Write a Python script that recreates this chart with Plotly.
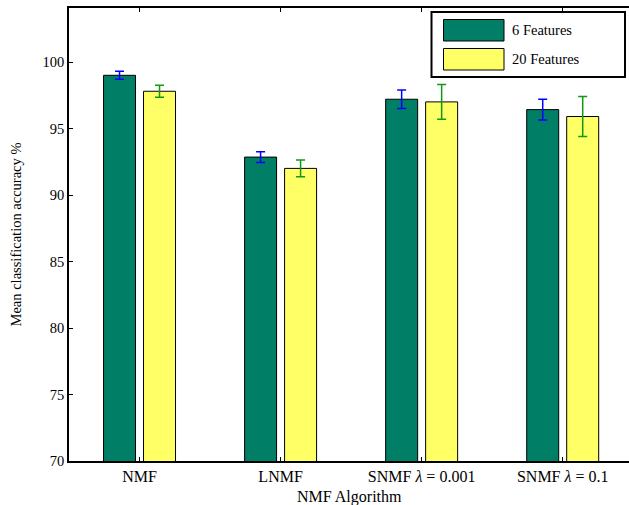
import plotly.graph_objects as go

categories = ["NMF", "LNMF", "SNMF <i>λ</i> = 0.001", "SNMF <i>λ</i> = 0.1"]
series_names = ["6 Features", "20 Features"]
acc_6 = [99.0, 92.85, 97.2, 96.42]
err_6 = [0.3, 0.4, 0.69, 0.78]
acc_20 = [97.8, 92.0, 97.0, 95.9]
err_20 = [0.45, 0.63, 1.3, 1.5]
y_ticks = [70, 75, 80, 85, 90, 95, 100]
x_title = "NMF Algorithm"
y_title = "Mean classification accuracy %"

GREEN = "#007f66"
YELLOW = "#ffff66"
FONT = "Liberation Serif"

W, H = 629, 505
L, T, B = 69, 8, 44
PW, PH = W - L, H - T - B

def px(x):
    return (x - L) / PW

def py(y):
    return (H - B - y) / PH

fig = go.Figure()
fig.add_bar(x=categories, y=acc_6, name=series_names[0],
            marker=dict(color=GREEN, line=dict(color="black", width=1)),
            error_y=dict(type="data", array=err_6, color="#0000ff", thickness=1.5, width=4.5),
            showlegend=False, hoverinfo="skip")
fig.add_bar(x=categories, y=acc_20, name=series_names[1],
            marker=dict(color=YELLOW, line=dict(color="black", width=1)),
            error_y=dict(type="data", array=err_20, color="#119911", thickness=1.5, width=4.5),
            showlegend=False, hoverinfo="skip")

fig.update_layout(
    width=W, height=H,
    margin=dict(l=L, r=0, t=T, b=B, autoexpand=False),
    paper_bgcolor="white", plot_bgcolor="white",
    barmode="group", bargap=0.433, bargroupgap=0.2,
    font=dict(family=FONT, size=14, color="black"),
    xaxis=dict(range=[-0.5, 3.47], showline=True, linecolor="black", linewidth=1.5,
               mirror="ticks", ticks="inside", ticklen=4, tickcolor="black",
               tickfont=dict(size=16),
               showgrid=False, zeroline=False, automargin=False),
    yaxis=dict(range=[70, 104.06], tickvals=y_ticks, showline=True, linecolor="black",
               linewidth=1.5, ticks="inside", ticklen=4, tickcolor="black",
               tickfont=dict(size=14.5),
               showgrid=False, zeroline=False, automargin=False,
               title=dict(text=y_title, font=dict(size=14.5), standoff=18)),
    yaxis2=dict(range=[70, 104.06], tickvals=y_ticks, overlaying="y", side="right",
                showline=False, ticks="inside", ticklen=4, tickcolor="black",
                showticklabels=False, showgrid=False, zeroline=False, automargin=False),
)

# x-axis title placed as annotation to match the reference position
fig.add_annotation(xref="paper", yref="paper", x=0.5, y=py(497), text=x_title,
                   showarrow=False, xanchor="center", yanchor="middle",
                   font=dict(family=FONT, size=16, color="black"))

# legend box drawn manually (large swatches as in reference)
shapes = [
    dict(type="rect", xref="paper", yref="paper", x0=px(431.5), x1=px(625), y0=py(77), y1=py(12),
         line=dict(color="black", width=2), fillcolor="white", layer="above"),
    dict(type="rect", xref="paper", yref="paper", x0=px(443.5), x1=px(504), y0=py(41), y1=py(19.5),
         line=dict(color="black", width=1), fillcolor=GREEN, layer="above"),
    dict(type="rect", xref="paper", yref="paper", x0=px(443.5), x1=px(504), y0=py(70), y1=py(48.5),
         line=dict(color="black", width=1), fillcolor=YELLOW, layer="above"),
]
fig.update_layout(shapes=shapes)
for name, yc in zip(series_names, [30, 59]):
    fig.add_annotation(xref="paper", yref="paper", x=px(510), y=py(yc), text=name,
                       showarrow=False, xanchor="left", yanchor="middle",
                       font=dict(family=FONT, size=14.5, color="black"))

fig.write_html("out.html", config={"displayModeBar": False},
               post_script="document.body.style.margin='0';document.body.style.overflow='hidden';")
